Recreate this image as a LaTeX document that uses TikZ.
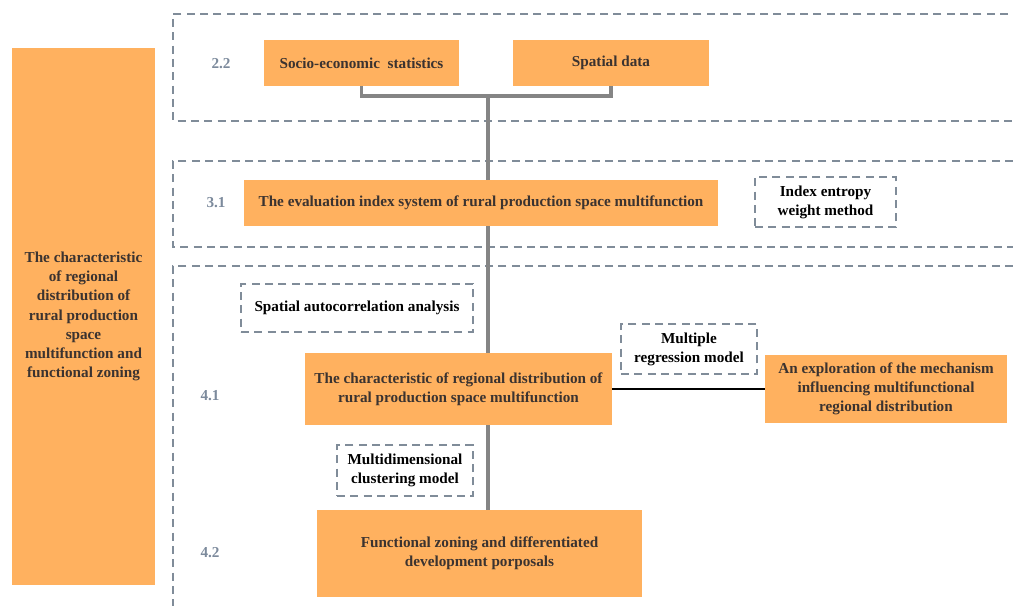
\documentclass[tikz,border=0pt]{standalone}
\usepackage{fontspec}
\setmainfont{Liberation Serif}
\definecolor{orng}{HTML}{FFB15F}
\definecolor{dashc}{HTML}{808C99}
\definecolor{numc}{HTML}{7C8A9C}
\definecolor{linec}{HTML}{858585}
\definecolor{txtc}{HTML}{3B3330}
\begin{document}
\begin{tikzpicture}[x=0.75pt,y=-0.75pt,
  sz/.style 2 args={minimum width=#1*0.75pt, minimum height=#2*0.75pt},
  obox/.style={fill=orng, draw=none, inner sep=0pt, align=center, text=txtc, font=\bfseries\fontsize{11.4}{14.4}\selectfont},
  dbox/.style={draw=dashc, line width=1.5pt, dash pattern=on 6pt off 4pt, inner sep=0pt, align=center, text=black, font=\bfseries\fontsize{11.4}{14.2}\selectfont},
  num/.style={text=numc, inner sep=0pt, font=\bfseries\fontsize{11.4}{12}\selectfont},
  frame/.style={draw=dashc, line width=1.5pt, dash pattern=on 6pt off 4pt},
  trunk/.style={draw=linec, line width=2.6pt},
  link/.style={draw=black, line width=1.1pt}]
\useasboundingbox (0,0) rectangle (1013,606);
% section frames
\draw[frame] (1008,14) -- (173,14) -- (173,121) -- (1013,121);
\draw[frame] (1013,161) -- (173,161) -- (173,247) -- (1013,247);
\draw[frame] (1013,266) -- (173,266) -- (173,606);
% left box
\node[obox, sz={143}{537}] (left) at (83.5,316.5) {The characteristic\\of regional\\distribution of\\rural production\\space\\multifunction and\\functional zoning};
% numbers
\node[num] (n22) at (221,64) {2.2};
\node[num] (n31) at (216,203) {3.1};
\node[num] (n41) at (210,396) {4.1};
\node[num] (n42) at (210,553) {4.2};
% boxes
\node[obox, sz={195}{46}] (soc) at (361.5,63) {Socio-economic\ \ statistics};
\node[obox, sz={196}{46}] (spa) at (611,63) {Spatial data};
\node[obox, sz={474}{46}] (eval) at (481,203) {The evaluation index system of rural production space multifunction};
\node[dbox, sz={141}{50}] (idx) at (825.5,202) {Index entropy\\weight method};
\node[dbox, sz={232}{48}] (sac) at (357,308) {Spatial autocorrelation analysis};
\node[obox, sz={307}{72}] (char) at (458.5,389) {The characteristic of regional distribution of\\rural production space multifunction};
\node[dbox, sz={136}{50}] (mrm) at (689,349) {Multiple\\regression model};
\node[obox, sz={242}{68}] (expl) at (886,389) {An exploration of the mechanism\\influencing multifunctional\\regional distribution};
\node[dbox, sz={136}{51}] (mcm) at (405,470.5) {Multidimensional\\clustering model};
\node[obox, sz={325}{87}] (fz) at (479.5,553.5) {Functional zoning and differentiated\\development porposals};
% connectors
\coordinate (j) at (488,96);
\draw[trunk] (soc.south) |- (j) -| (spa.south);
\draw[trunk] (j) -- (j |- eval.north);
\draw[trunk] (eval.south -| j) -- (char.north -| j);
\draw[trunk] (char.south -| j) -- (fz.north -| j);
\draw[link] (char.east) -- (expl.west);
\end{tikzpicture}
\end{document}
